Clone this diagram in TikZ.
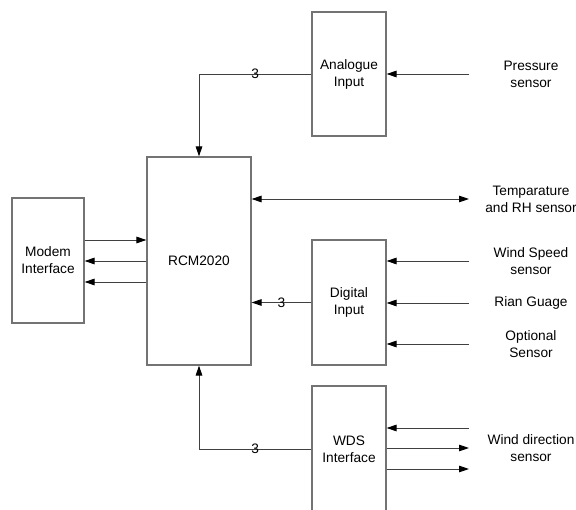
\documentclass[tikz,border=0pt]{standalone}
\usepackage{fontspec}
\setmainfont{Liberation Sans}
\usetikzlibrary{arrows.meta,calc}
\begin{document}
\begin{tikzpicture}[x=1pt,y=-1pt,
  txt/.style={font=\fontsize{13.7}{17}\selectfont},
  box/.style={txt,draw=black!55,line width=1.1pt,inner sep=0pt,align=center},
  lbl/.style={txt,align=center,inner sep=0pt},
  num/.style={txt,inner sep=0pt},
  wire/.style={line width=0.9pt,draw=black!75},
  arr/.style={wire,-{Triangle[length=10pt,width=6.5pt,color=black]}},
  darr/.style={wire,{Triangle[length=10pt,width=6.5pt,color=black]}-{Triangle[length=10pt,width=6.5pt,color=black]}}
]
\useasboundingbox (0,0) rectangle (576,510);
\clip (0,0) rectangle (576,510);

% boxes
\node[box,minimum width=74pt,minimum height=124pt] (ana) at (349,74) {Analogue\\Input};
\node[box,minimum width=104pt,minimum height=208pt] (rcm) at (199,261) {RCM2020};
\node[box,minimum width=72pt,minimum height=125pt] (mod) at (48,260.5) {Modem\\Interface};
\node[box,minimum width=74pt,minimum height=125pt] (dig) at (349,302.5) {Digital\\Input};
\node[box,minimum width=74pt,minimum height=126pt] (wds) at (349,449) {WDS\\Interface};

% sensor labels
\node[lbl] (pres) at (531,74) {Pressure\\sensor};
\node[lbl] (temp) at (531,199) {Temparature\\and RH sensor};
\node[lbl] (wsp) at (531,261) {Wind Speed\\sensor};
\node[lbl] (rain) at (531,303) {Rian Guage};
\node[lbl] (opt) at (531,344) {Optional\\Sensor};
\node[lbl] (wdir) at (531,448) {Wind direction\\sensor};

% free ends of the sensor lines
\coordinate (pP) at (469,74);
\coordinate (pT) at (469,199);
\coordinate (pW) at (469,261);
\coordinate (pR) at (469,303);
\coordinate (pO) at (469,344);
\coordinate (pD1) at (469,428);
\coordinate (pD2) at (469,448);
\coordinate (pD3) at (469,469);
\coordinate (m1) at (0,240);
\coordinate (m2) at (0,261);
\coordinate (m3) at (0,282);

% sensor connections
\draw[arr] (pP) -- (pP -| ana.east);
\draw[darr] (pT -| rcm.east) -- (pT);
\draw[arr] (pW) -- (pW -| dig.east);
\draw[arr] (pR) -- (pR -| dig.east);
\draw[arr] (pO) -- (pO -| dig.east);
\draw[arr] (pD1) -- (pD1 -| wds.east);
\draw[arr] (pD2 -| wds.east) -- (pD2);
\draw[arr] (pD3 -| wds.east) -- (pD3);

% to RCM2020
\draw[arr] (ana.west) -| node[num,pos=0.25] {3} (rcm.north);
\draw[arr] (dig.west) -- node[num] {3} (dig.west -| rcm.east);
\draw[arr] (wds.west) -| node[num,pos=0.25] {3} (rcm.south);

% modem
\draw[arr] (m1 -| mod.east) -- (m1 -| rcm.west);
\draw[arr] (m2 -| rcm.west) -- (m2 -| mod.east);
\draw[arr] (m3 -| rcm.west) -- (m3 -| mod.east);
\end{tikzpicture}
\end{document}
